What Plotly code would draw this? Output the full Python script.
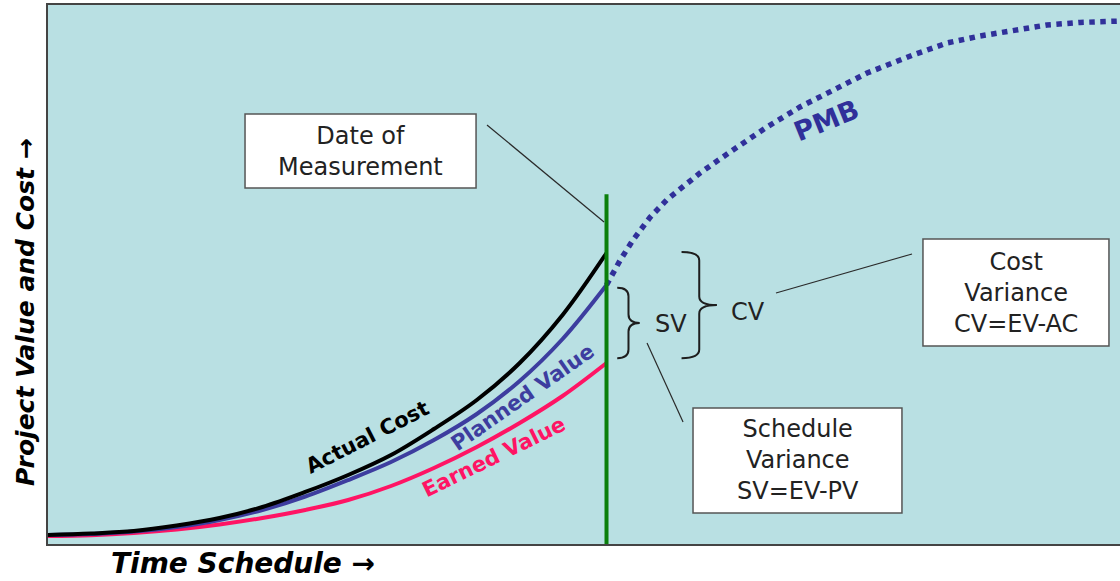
import plotly.graph_objects as go

# ---- data (conceptual EVM chart, units: time 0-100, value 0-100) ----
time_pts = [0, 4, 8, 12, 16, 20, 24, 28, 32, 36, 40, 44, 48, 52.1]
actual_cost = [1.67, 1.95, 2.41, 3.43, 4.82, 6.86, 9.65, 12.8, 16.51, 21.34, 26.72, 33.58, 42.49, 53.99]
planned_value = [1.67, 1.86, 2.32, 3.15, 4.45, 6.31, 8.81, 11.87, 15.21, 19.29, 24.12, 30.24, 38.03, 48.05]
earned_value = [1.48, 1.63, 2.04, 2.69, 3.62, 4.82, 6.31, 8.16, 10.76, 14.1, 18.0, 22.45, 27.46, 33.58]

pmb_time = [52.1, 53.36, 54.57, 56.16, 57.74, 60.82, 63.9, 67.07, 70.15, 73.23, 76.4, 80.69,
            83.86, 86.94, 90.02, 93.19, 96.27, 100]
pmb_value = [48.05, 52.6, 56.4, 60.6, 63.9, 68.83, 73.1, 77.37, 81.08, 84.23, 87.38, 90.72,
             92.95, 94.25, 95.36, 96.29, 96.76, 97.03]

date_of_measurement = 52.1
date_line_top = 64.9

FONT = "DejaVu Sans"
BG = "#b9e0e3"
C_AC = "#000000"
C_PV = "#3d3d9f"
C_EV = "#ff1464"
C_PMB = "#30309a"
C_DATE = "#0b7f0b"

fig = go.Figure()

fig.add_trace(go.Scatter(x=pmb_time, y=pmb_value, mode="lines",
                         line=dict(color=C_PMB, width=5.5, dash="dot", shape="linear"),
                         hoverinfo="skip"))
fig.add_trace(go.Scatter(x=time_pts, y=earned_value, mode="lines",
                         line=dict(color=C_EV, width=4, shape="spline"), hoverinfo="skip"))
fig.add_trace(go.Scatter(x=time_pts, y=planned_value, mode="lines",
                         line=dict(color=C_PV, width=4, shape="spline"), hoverinfo="skip"))
fig.add_trace(go.Scatter(x=time_pts, y=actual_cost, mode="lines",
                         line=dict(color=C_AC, width=4, shape="spline"), hoverinfo="skip"))
fig.add_trace(go.Scatter(x=[date_of_measurement, date_of_measurement], y=[0, date_line_top],
                         mode="lines", line=dict(color=C_DATE, width=4), hoverinfo="skip"))

shapes = []


def brace(x0, x1, ytop, ybot, r=1.6):
    xm = (x0 + x1) / 2
    ym = (ytop + ybot) / 2
    path = (f"M {x0},{ytop} Q {xm},{ytop} {xm},{ytop - r} "
            f"L {xm},{ym + r} Q {xm},{ym} {x1},{ym} "
            f"Q {xm},{ym} {xm},{ym - r} "
            f"L {xm},{ybot + r} Q {xm},{ybot} {x0},{ybot}")
    return dict(type="path", path=path, xref="x", yref="y",
                line=dict(color="#1e1e1e", width=2))


pv_end = planned_value[-1]
ev_end = earned_value[-1]
ac_end = actual_cost[-1]

shapes.append(brace(53.1, 55.2, pv_end - 0.5, ev_end + 0.9))
shapes.append(brace(59.1, 62.4, ac_end + 0.2, ev_end + 0.9))

# leader lines
for (xa, ya, xb, yb) in [(40.95, 77.74, 51.87, 59.74),
                         (67.91, 46.57, 80.6, 53.8),
                         (55.88, 37.29, 59.24, 22.63)]:
    shapes.append(dict(type="line", x0=xa, y0=ya, x1=xb, y1=yb, xref="x", yref="y",
                       line=dict(color="#2a2a2a", width=1.2)))

# boxes
boxes = [(18.38, 66.05, 39.93, 79.78), (81.62, 36.73, 98.97, 56.59), (60.17, 5.75, 79.66, 25.23)]
for (x0, y0, x1, y1) in boxes:
    shapes.append(dict(type="rect", x0=x0, y0=y0, x1=x1, y1=y1, xref="x", yref="y",
                       fillcolor="white", line=dict(color="#555555", width=1.5)))

ann = []


def txt(x, y, text, size=24, color="#222222", angle=0, bold=False, italic=False, ref="x"):
    t = text
    if bold:
        t = f"<b>{t}</b>"
    if italic:
        t = f"<i>{t}</i>"
    xr, yr = ("x", "y") if ref == "x" else ("paper", "paper")
    ann.append(dict(x=x, y=y, xref=xr, yref=yr, text=t, showarrow=False,
                    textangle=angle, xanchor="center", yanchor="middle",
                    font=dict(family=FONT, size=size, color=color)))


txt(29.15, 72.9, "Date of<br>Measurement", 24)
txt(90.3, 46.6, "Cost<br>Variance<br>CV=EV-AC", 24)
txt(69.92, 15.5, "Schedule<br>Variance<br>SV=EV-PV", 24)
txt(58.1, 40.8, "SV", 24)
txt(65.3, 43.0, "CV", 24)
txt(72.6, 78.5, "PMB", 27, C_PMB, -22, bold=True)
txt(29.85, 19.85, "Actual Cost", 21, "#000000", -27, bold=True)
txt(44.3, 27.3, "Planned Value", 21, C_PV, -35, bold=True)
txt(41.6, 16.1, "Earned Value", 21, C_EV, -26, bold=True)
txt(0.1819, -0.0371, "Time Schedule \u2192", 28, "#000000", 0, bold=True, italic=True, ref="paper")
txt(-0.0215, 0.4304, "Project Value and Cost \u2192", 25, "#000000", -90, bold=True, italic=True,
    ref="paper")

fig.update_layout(
    width=1120, height=581,
    margin=dict(l=48, r=0, t=5, b=37),
    paper_bgcolor="white",
    plot_bgcolor=BG,
    showlegend=False,
    shapes=shapes,
    annotations=ann,
    xaxis=dict(range=[0, 100], showgrid=False, zeroline=False, showticklabels=False,
               ticks="", showline=True, linecolor="#444444", linewidth=2, mirror=True,
               fixedrange=True),
    yaxis=dict(range=[0, 100], showgrid=False, zeroline=False, showticklabels=False,
               ticks="", showline=True, linecolor="#444444", linewidth=2,
               fixedrange=True),
)

fig.write_html("out.html", config={"displayModeBar": False},
               post_script="document.body.style.margin='0';document.body.style.padding='0';"
                           "document.body.style.overflow='hidden';")
